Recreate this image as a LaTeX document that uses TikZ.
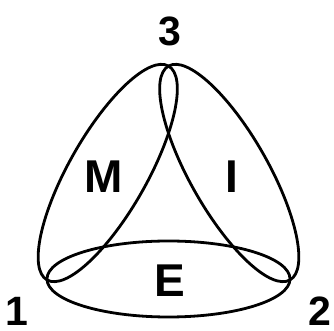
\documentclass[tikz,border=0pt]{standalone}
\usepackage{fontspec}
\setmainfont{Liberation Sans}
\begin{document}
\begin{tikzpicture}[x=1pt,y=1pt,
  loop/.style={line width=2.8pt},
  vlabel/.style={inner sep=0pt,font=\fontsize{41}{41}\selectfont\bfseries},
  slabel/.style={inner sep=0pt,font=\fontsize{46}{46}\selectfont\bfseries}]
\useasboundingbox (0,0) rectangle (334,331);
% ellipses
\draw[loop] (168.5,52) ellipse [x radius=121.5, y radius=38];
\draw[loop,rotate around={60.4:(107.75,158)}] (107.75,158) ellipse [x radius=123, y radius=39];
\draw[loop,rotate around={119.6:(229.25,158)}] (229.25,158) ellipse [x radius=123, y radius=39];
% vertex labels
\node[vlabel] (v3) at (170,300) {3};
\node[vlabel] (v1) at (16.5,19.5) {1};
\node[vlabel] (v2) at (319.5,19.5) {2};
% set labels
\node[slabel] (m) at (103.5,154.5) {M};
\node[slabel] (i) at (231.5,154) {I};
\node[slabel] (e) at (170,50.5) {E};
\end{tikzpicture}
\end{document}
